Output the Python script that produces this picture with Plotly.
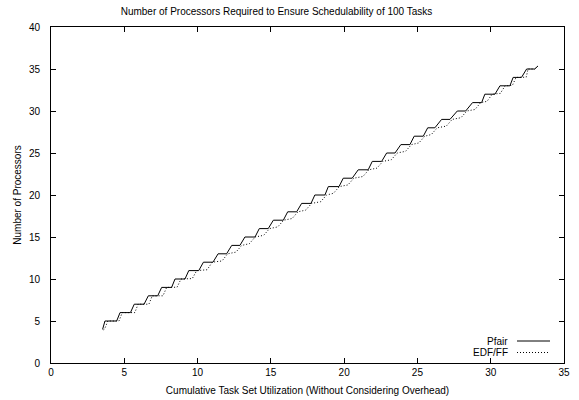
import plotly.graph_objects as go

# ---- data ----
pfair_x = [3.52, 3.68, 4.48, 4.71, 5.42, 5.68, 6.35, 6.64, 7.28, 7.55, 8.23, 8.46, 9.14,
           9.40, 10.08, 10.40, 11.05, 11.40, 11.98, 12.33, 12.89, 13.23, 13.92, 14.21, 14.82,
           15.17, 15.85, 16.15, 16.76, 17.10, 17.74, 18.00, 18.69, 18.92, 19.65, 19.94, 20.55,
           20.96, 21.64, 21.92, 22.56, 22.90, 23.47, 23.87, 24.49, 24.78, 25.40, 25.70, 26.19,
           26.65, 27.22, 27.72, 28.29, 28.76, 29.38, 29.60, 30.29, 30.63, 31.31, 31.53, 32.10,
           32.45, 33.00, 33.22]
pfair_y = [4, 5, 5, 6, 6, 7, 7, 8, 8, 9, 9, 10, 10, 11, 11, 12, 12, 13, 13, 14, 14, 15, 15,
           16, 16, 17, 17, 18, 18, 19, 19, 20, 20, 21, 21, 22, 22, 23, 23, 24, 24, 25, 25,
           26, 26, 27, 27, 28, 28, 29, 29, 30, 30, 31, 31, 32, 32, 33, 33, 34, 34, 35, 35, 35.35]

edf_x = [3.58, 3.66, 3.88, 4.64, 4.86, 5.72, 5.94, 6.68, 6.91, 7.64, 7.89, 8.60, 8.87, 9.64,
         9.94, 10.65, 11.00, 11.67, 12.05, 12.62, 13.01, 13.53, 13.93, 14.51, 14.91, 15.47,
         15.87, 16.45, 16.85, 17.38, 17.78, 18.40, 18.80, 19.27, 19.67, 20.26, 20.66, 21.28,
         21.68, 22.24, 22.64, 23.22, 23.62, 24.19, 24.59, 25.10, 25.50, 25.95, 26.35, 26.97,
         27.37, 27.97, 28.37, 28.93, 29.31, 29.75, 30.10, 30.66, 30.98, 31.48, 31.73, 32.42,
         32.55, 33.00, 33.22]
edf_y = [3.95, 4.05, 5.0, 5.0, 6, 6.0, 7, 7.0, 8, 8.0, 9, 9.02, 10, 10.05, 11, 11.1, 12,
         12.15, 13, 13.2, 14, 14.2, 15, 15.2, 16, 16.2, 17, 17.2, 18, 18.2, 19, 19.2, 20,
         20.2, 21, 21.2, 22, 22.2, 23, 23.2, 24, 24.2, 25, 25.2, 26, 26.2, 27, 27.2, 28,
         28.2, 29, 29.2, 30, 30.18, 31, 31.15, 32, 32.1, 33, 33.05, 34, 34.02, 35, 35.0, 35.35]

x_ticks = [0, 5, 10, 15, 20, 25, 30, 35]
y_ticks = [0, 5, 10, 15, 20, 25, 30, 35, 40]

FONT = "Liberation Sans, Arial, Helvetica, sans-serif"

fig = go.Figure()
fig.add_trace(go.Scatter(x=pfair_x, y=pfair_y, mode="lines", name="Pfair",
                         line=dict(color="black", width=1), showlegend=False))
fig.add_trace(go.Scatter(x=edf_x, y=edf_y, mode="lines", name="EDF/FF",
                         line=dict(color="black", width=1, dash="1px,2px"), showlegend=False))

axis_common = dict(showgrid=False, zeroline=False, showline=True, linecolor="black",
                   linewidth=1, mirror="ticks", ticks="inside", ticklen=5, tickwidth=1,
                   tickcolor="black", automargin=False,
                   tickfont=dict(family=FONT, size=10, color="black"))

fig.update_layout(
    width=579, height=400,
    margin=dict(l=51, r=15, t=27, b=37),
    paper_bgcolor="white", plot_bgcolor="white",
    font=dict(family=FONT, size=10, color="black"),
    title=dict(text="Number of Processors Required to Ensure Schedulability of 100 Tasks",
               x=0.4396, xref="paper", xanchor="center",
               y=1 - 11 / 400, yref="container", yanchor="middle",
               font=dict(family=FONT, size=10, color="black")),
    xaxis=dict(range=[0, 35], tickvals=x_ticks, ticktext=[str(v) for v in x_ticks],
               title=dict(text="Cumulative Task Set Utilization (Without Considering Overhead)",
                          font=dict(family=FONT, size=10), standoff=9),
               **axis_common),
    yaxis=dict(range=[0, 40], tickvals=y_ticks, ticktext=[str(v) for v in y_ticks],
               ticklabelstandoff=8,
               title=dict(text="Number of Processors", font=dict(family=FONT, size=10),
                          standoff=5),
               **axis_common),
)

# gnuplot-style key: text on the left, line sample on the right
legend_items = [("Pfair", "solid"), ("EDF/FF", "1px,2px")]
for i, (label, dash) in enumerate(legend_items):
    ypx = 341 + i * 11.5
    yp = (363 - ypx) / 336
    fig.add_annotation(text=label, xref="paper", yref="paper", x=(510 - 51) / 513, y=yp,
                       xanchor="right", yanchor="middle", showarrow=False,
                       font=dict(family=FONT, size=10, color="black"))
    fig.add_shape(type="line", xref="paper", yref="paper",
                  x0=(517 - 51) / 513, x1=(550 - 51) / 513, y0=yp, y1=yp,
                  line=dict(color="black", width=1, dash=dash))

fig.write_html("out.html")
